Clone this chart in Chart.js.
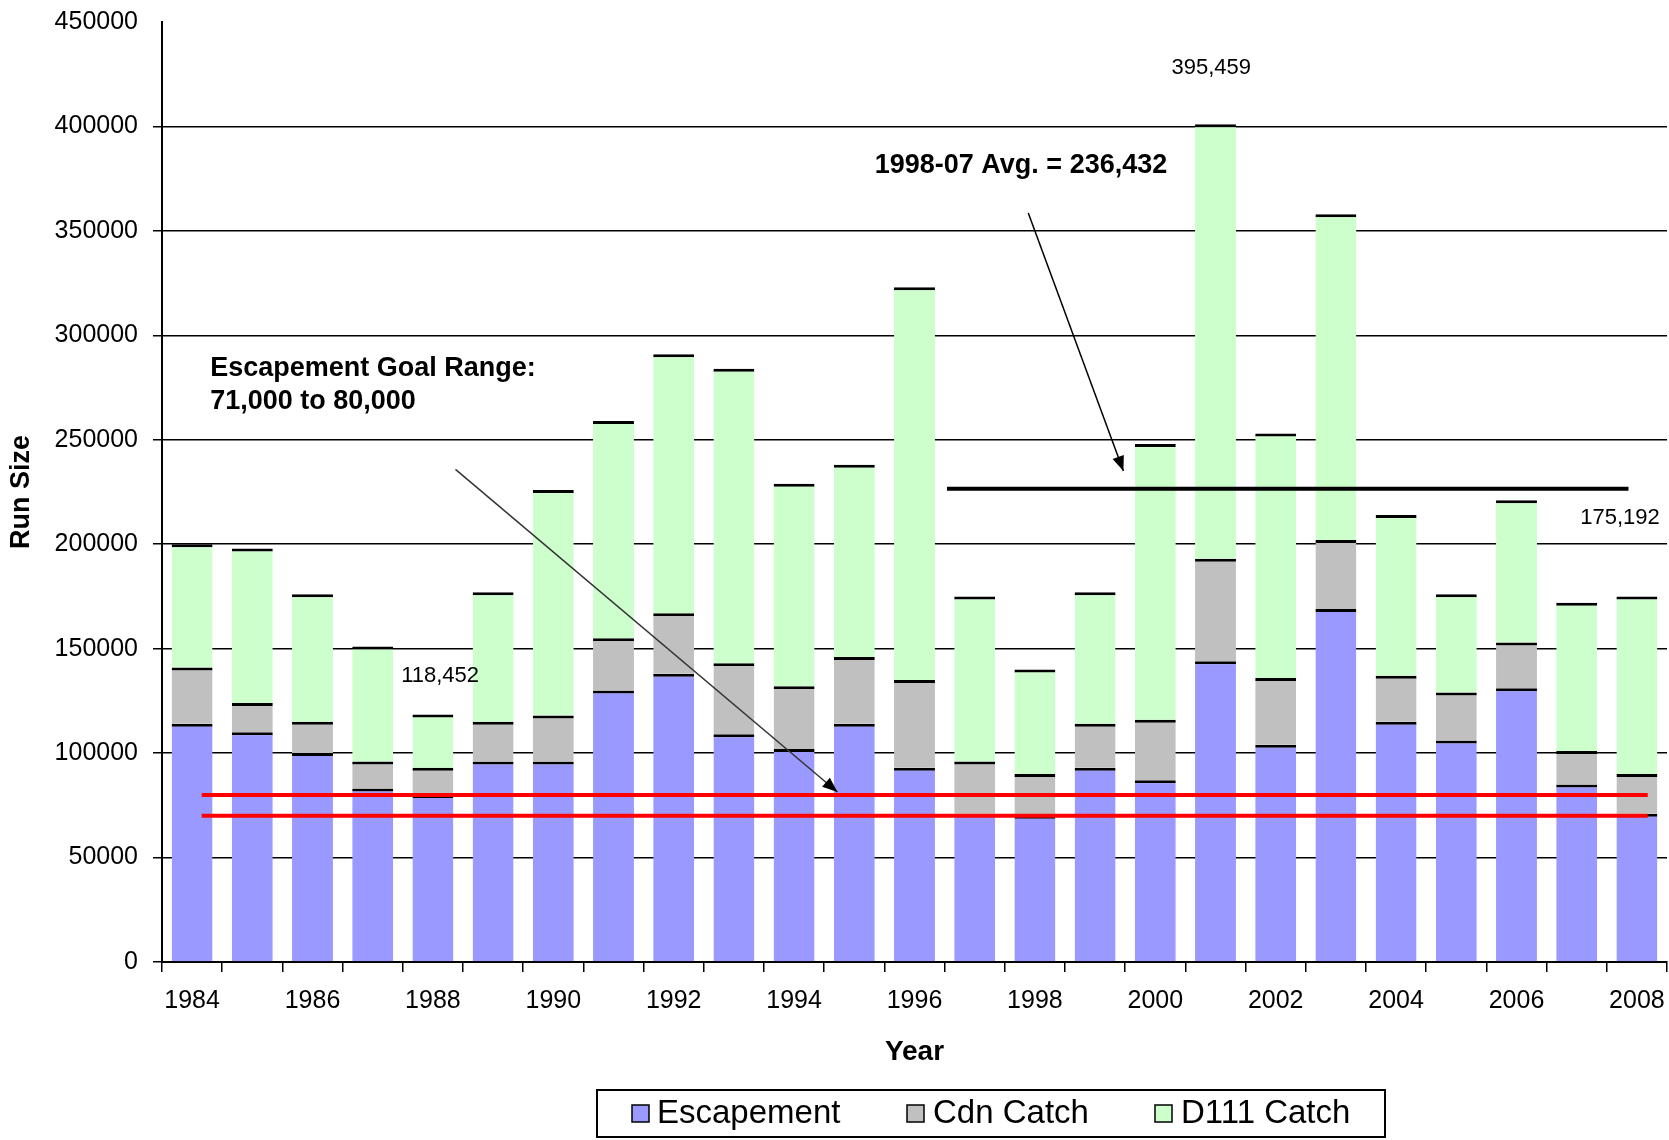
<!DOCTYPE html>
<html><head><meta charset="utf-8">
<script src="https://cdn.jsdelivr.net/npm/chart.js@4.4.0/dist/chart.umd.min.js"></script>
<style>html,body{margin:0;padding:0;background:#fff;}#wrap{width:1669px;height:1140px;}</style>
</head><body><div id="wrap"><canvas id="c" width="1669" height="1140"></canvas></div>
<script>
const years = ['1984','1985','1986','1987','1988','1989','1990','1991','1992','1993','1994','1995','1996','1997','1998','1999','2000','2001','2002','2003','2004','2005','2006','2007','2008'];
const labelYears = ['1984','1986','1988','1990','1992','1994','1996','1998','2000','2002','2004','2006','2008'];
const escapement = [114000,110000,100000,83000,80000,96000,96000,130000,138000,109000,102000,114000,93000,71000,70000,93000,87000,144000,104000,169000,115000,106000,131000,85000,71000];
const cdnCatch = [27000,14000,15000,13000,13000,19000,22000,25000,29000,34000,30000,32000,42000,25000,20000,21000,29000,49000,32000,33000,22000,23000,22000,16000,19000];
const d111Catch = [59000,74000,61000,55000,25500,62000,108000,104000,124000,141000,97000,92000,188000,79000,50000,63000,132000,208000,117000,156000,77000,47000,68000,71000,85000];
const yTicks = [0,50000,100000,150000,200000,250000,300000,350000,400000,450000];
const goalLow = 70000, goalHigh = 80000;
const avgValue = 226600;
const dataLabels = ['118,452','395,459','175,192'];
const dataLabelIdx = [4.12, 16.93, 24.38];
const dataLabelVal = [136900, 428000, 212500];

const FONT = '"Liberation Sans", Arial, sans-serif';

function arrow(ctx, x1, y1, x2, y2) {
  ctx.beginPath(); ctx.moveTo(x1, y1); ctx.lineTo(x2, y2); ctx.stroke();
  const a = Math.atan2(y2 - y1, x2 - x1), L = 15, W = 6;
  ctx.beginPath();
  ctx.moveTo(x2, y2);
  ctx.lineTo(x2 - L * Math.cos(a) + W * Math.sin(a), y2 - L * Math.sin(a) - W * Math.cos(a));
  ctx.lineTo(x2 - L * Math.cos(a) - W * Math.sin(a), y2 - L * Math.sin(a) + W * Math.cos(a));
  ctx.closePath(); ctx.fill();
}

const overlay = {
  id: 'overlay',
  afterDatasetsDraw(chart) {
    const ctx = chart.ctx, x = chart.scales.x, y = chart.scales.y;
    ctx.save();
    ctx.strokeStyle = '#FF0000'; ctx.lineWidth = 4;
    [goalLow, goalHigh].forEach(v => {
      ctx.beginPath();
      ctx.moveTo(x.getPixelForValue(0.16), y.getPixelForValue(v));
      ctx.lineTo(x.getPixelForValue(24.18), y.getPixelForValue(v));
      ctx.stroke();
    });
    ctx.strokeStyle = '#000'; ctx.lineWidth = 4;
    ctx.beginPath();
    ctx.moveTo(x.getPixelForValue(12.54), y.getPixelForValue(avgValue));
    ctx.lineTo(x.getPixelForValue(23.86), y.getPixelForValue(avgValue));
    ctx.stroke();
    ctx.lineWidth = 1.5; ctx.strokeStyle = '#000'; ctx.fillStyle = '#000';
    arrow(ctx, x.getPixelForValue(13.89), y.getPixelForValue(358600), x.getPixelForValue(15.47), y.getPixelForValue(235000));
    ctx.strokeStyle = '#333';
    arrow(ctx, x.getPixelForValue(4.375), y.getPixelForValue(235800), x.getPixelForValue(10.72), y.getPixelForValue(81400));
    ctx.fillStyle = '#000';
    ctx.textBaseline = 'middle';
    ctx.font = 'bold 27px ' + FONT;
    ctx.textAlign = 'left';
    ctx.fillText('Escapement Goal Range:', x.getPixelForValue(0.30), y.getPixelForValue(284300));
    ctx.fillText('71,000 to 80,000', x.getPixelForValue(0.30), y.getPixelForValue(268100));
    ctx.fillText('1998-07 Avg. = 236,432', x.getPixelForValue(11.34), y.getPixelForValue(381500));
    ctx.font = '22px ' + FONT;
    dataLabels.forEach((t, i) => {
      ctx.textAlign = i === 2 ? 'right' : 'center';
      ctx.fillText(t, x.getPixelForValue(dataLabelIdx[i]), y.getPixelForValue(dataLabelVal[i]));
    });
    ctx.restore();
  },
  afterDraw(chart) {
    const ctx = chart.ctx;
    ctx.save();
    ctx.strokeStyle = '#000'; ctx.lineWidth = 2;
    ctx.fillStyle = '#fff';
    ctx.fillRect(597, 1090, 788, 47);
    ctx.strokeRect(597, 1090, 788, 47);
    const items = [
      {label: 'Escapement', color: '#9999FF', bx: 632, tx: 657},
      {label: 'Cdn Catch', color: '#C0C0C0', bx: 907, tx: 933},
      {label: 'D111 Catch', color: '#CCFFCC', bx: 1155, tx: 1181}
    ];
    ctx.font = '33px ' + FONT;
    ctx.textBaseline = 'middle'; ctx.textAlign = 'left';
    items.forEach(it => {
      ctx.fillStyle = it.color;
      ctx.fillRect(it.bx, 1105, 17, 17);
      ctx.lineWidth = 1.5; ctx.strokeStyle = '#000';
      ctx.strokeRect(it.bx, 1105, 17, 17);
      ctx.fillStyle = '#000';
      ctx.fillText(it.label, it.tx, 1114);
    });
    ctx.restore();
  }
};

const bw = {top: 3, right: 0, bottom: 0, left: 0};
new Chart(document.getElementById('c'), {
  type: 'bar',
  data: {
    labels: years,
    datasets: [
      {label: 'Escapement', data: escapement, backgroundColor: '#9999FF', borderColor: '#000', borderWidth: bw, borderSkipped: false},
      {label: 'Cdn Catch', data: cdnCatch, backgroundColor: '#C0C0C0', borderColor: '#000', borderWidth: bw, borderSkipped: false},
      {label: 'D111 Catch', data: d111Catch, backgroundColor: '#CCFFCC', borderColor: '#000', borderWidth: bw, borderSkipped: false}
    ]
  },
  options: {
    responsive: false,
    animation: false,
    devicePixelRatio: 1,
    layout: {padding: {top: 22, right: 2, bottom: 0, left: 0}},
    datasets: {bar: {categoryPercentage: 1.0, barPercentage: 0.68}},
    plugins: {legend: {display: false}, tooltip: {enabled: false}},
    scales: {
      x: {
        stacked: true,
        grid: {drawOnChartArea: false, drawTicks: true, tickLength: 10, color: '#000', lineWidth: 1.5, offset: true},
        border: {display: true, color: '#000', width: 2},
        ticks: {
          autoSkip: false, maxRotation: 0, minRotation: 0, padding: 14, color: '#000',
          font: {family: FONT, size: 25},
          callback: function(v, i) { return labelYears.includes(years[i]) ? years[i] : ''; }
        },
        title: {display: true, text: 'Year', color: '#000', font: {family: FONT, size: 28, weight: 'bold'}, padding: {top: 0, bottom: 71}},
        afterFit: function(s) { s.height = 178; s.paddingLeft = 0; s.paddingRight = 0; }
      },
      y: {
        stacked: true, min: 0, max: 450000,
        afterBuildTicks: function(s) { s.ticks = yTicks.map(v => ({value: v})); },
        grid: {
          color: c => (c.tick && c.tick.value === 450000) ? 'rgba(0,0,0,0)' : '#000',
          lineWidth: 1.5, tickLength: 9, drawTicks: true
        },
        border: {display: true, color: '#000', width: 2},
        ticks: {color: '#000', padding: 15, font: {family: FONT, size: 25}, callback: v => String(v)},
        title: {display: true, text: 'Run Size', color: '#000', font: {family: FONT, size: 27, weight: 'bold'}, padding: {top: 5, bottom: 0}},
        afterFit: function(s) { s.width = 162; s.paddingTop = 0; s.paddingBottom = 0; }
      }
    }
  },
  plugins: [overlay]
});
</script>
</body></html>
